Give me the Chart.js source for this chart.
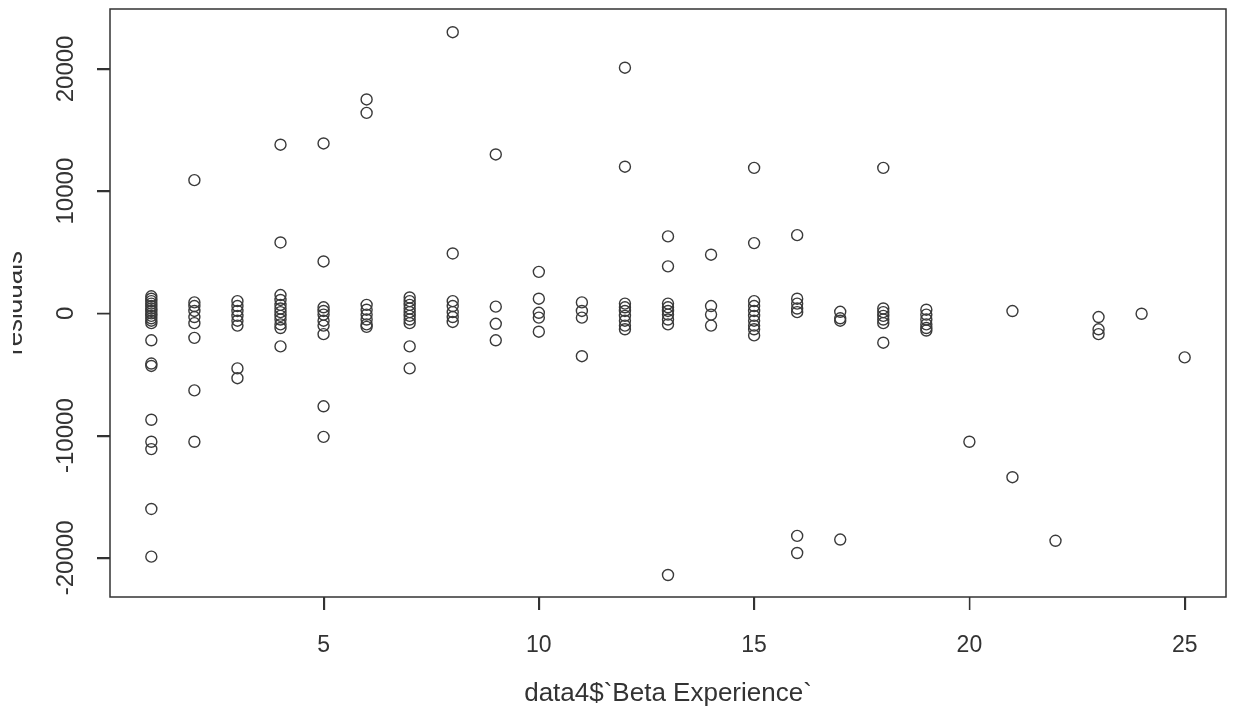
<!DOCTYPE html>
<html>
<head>
<meta charset="utf-8">
<script src="https://cdn.jsdelivr.net/npm/chart.js@4.4.1/dist/chart.umd.min.js"></script>
<style>
  html, body { margin: 0; padding: 0; background: #fff; overflow: hidden; }
  #plot { position: absolute; left: 13px; top: 0; }
</style>
</head>
<body>
<canvas id="plot" width="1220" height="717"></canvas>
<script>
// residuals vs experience
var experience = [
  1, 1, 1, 1, 1, 1, 1, 1, 1, 1, 1, 1, 1, 1, 1, 1, 1, 1, 1, 1,
  2, 2, 2, 2, 2, 2, 2, 2, 2,
  3, 3, 3, 3, 3, 3, 3, 3,
  4, 4, 4, 4, 4, 4, 4, 4, 4, 4, 4, 4,
  5, 5, 5, 5, 5, 5, 5, 5, 5, 5,
  6, 6, 6, 6, 6, 6, 6, 6,
  7, 7, 7, 7, 7, 7, 7, 7, 7, 7,
  8, 8, 8, 8, 8, 8, 8,
  9, 9, 9, 9,
  10, 10, 10, 10, 10,
  11, 11, 11, 11,
  12, 12, 12, 12, 12, 12, 12, 12, 12,
  13, 13, 13, 13, 13, 13, 13, 13, 13,
  14, 14, 14, 14,
  15, 15, 15, 15, 15, 15, 15, 15, 15, 15,
  16, 16, 16, 16, 16, 16, 16,
  17, 17, 17, 17,
  18, 18, 18, 18, 18, 18, 18,
  19, 19, 19, 19, 19, 19,
  20,
  21, 21,
  22,
  23, 23, 23,
  24,
  25
];
var residuals = [
  1400, 1200, 1000, 800, 600, 400, 200, 0, -200, -400, -600, -800, -2200, -4100, -4300, -8700, -10500, -11100, -16000, -19900,
  10900, 900, 600, 200, -300, -800, -2000, -6300, -10500,
  1000, 600, 200, -200, -600, -1000, -4500, -5300,
  13800, 5800, 1500, 1100, 700, 400, 100, -200, -500, -900, -1200, -2700,
  13900, 4250, 500, 200, -100, -600, -1000, -1700, -7600, -10100,
  17500, 16400, 700, 300, -100, -500, -900, -1100,
  1300, 1000, 700, 400, 100, -200, -500, -800, -2700, -4500,
  23000, 4900, 1000, 600, 100, -300, -700,
  13000, 550, -850, -2200,
  3400, 1200, 50, -350, -1500,
  900, 200, -350, -3500,
  20100, 12000, 800, 500, 200, -200, -600, -1000, -1300,
  6300, 3850, 800, 500, 200, -100, -500, -900, -21400,
  4800, 600, -100, -1000,
  11900, 5750, 1000, 600, 200, -200, -600, -1000, -1300, -1800,
  6400, 1200, 800, 400, 100, -18200, -19600,
  130, -400, -600, -18500,
  11900, 400, 100, -200, -500, -800, -2400,
  300, -100, -500, -900, -1200, -1400,
  -10500,
  190, -13400,
  -18600,
  -300, -1300, -1700,
  -30,
  -3600
];
var xTicks = [5, 10, 15, 20, 25];
var yTicks = [-20000, -10000, 0, 10000, 20000];

var ink = '#333';
var fam = '"Liberation Sans", Arial, sans-serif';
var tickLen = 13;

var points = experience.map(function (x, i) {
  return { x: x, y: residuals[i] };
});

// R style box + outward tick marks
var boxPlugin = {
  id: 'box',
  afterDraw: function (chart) {
    var a = chart.chartArea, c = chart.ctx;
    var sx = chart.scales.x, sy = chart.scales.y;
    c.save();
    c.strokeStyle = ink;
    c.lineWidth = 1.5;
    c.strokeRect(a.left, a.top, a.right - a.left, a.bottom - a.top);
    c.lineWidth = 1.3;
    c.beginPath();
    xTicks.forEach(function (v) {
      var px = Math.round(sx.getPixelForValue(v)) + 0.5;
      c.moveTo(px, a.bottom);
      c.lineTo(px, a.bottom + tickLen);
    });
    yTicks.forEach(function (v) {
      var py = Math.round(sy.getPixelForValue(v)) + 0.5;
      c.moveTo(a.left, py);
      c.lineTo(a.left - tickLen, py);
    });
    c.stroke();
    c.restore();
  }
};

new Chart(document.getElementById('plot').getContext('2d'), {
  type: 'scatter',
  data: {
    datasets: [{
      data: points,
      pointRadius: 5.5,
      pointHoverRadius: 5.5,
      pointBorderWidth: 1.4,
      borderColor: '#3a3a3a',
      backgroundColor: 'rgba(0,0,0,0)'
    }]
  },
  options: {
    responsive: false,
    animation: false,
    devicePixelRatio: 1,
    layout: { padding: { top: 9, right: 7, left: 0, bottom: 0 } },
    plugins: {
      legend: { display: false },
      tooltip: { enabled: false }
    },
    scales: {
      x: {
        type: 'linear',
        min: 0.04,
        max: 25.96,
        afterBuildTicks: function (s) { s.ticks = xTicks.map(function (v) { return { value: v }; }); },
        afterFit: function (s) { s.height = 120; },
        border: { display: false },
        grid: { drawOnChartArea: false, drawTicks: true, tickLength: tickLen, color: ink, lineWidth: 1.3 },
        ticks: {
          autoSkip: false,
          maxRotation: 0,
          padding: 22,
          color: ink,
          font: { family: fam, size: 23 },
          callback: function (v) { return String(v); }
        },
        title: {
          display: true,
          text: 'data4$`Beta Experience`',
          color: ink,
          font: { family: fam, size: 26 },
          padding: { top: 0, bottom: 8 }
        }
      },
      y: {
        type: 'linear',
        min: -23200,
        max: 24900,
        afterBuildTicks: function (s) { s.ticks = yTicks.map(function (v) { return { value: v }; }); },
        afterFit: function (s) { s.width = 97; },
        border: { display: false },
        grid: { drawOnChartArea: false, drawTicks: true, tickLength: tickLen, color: ink, lineWidth: 1.3 },
        ticks: {
          autoSkip: false,
          minRotation: 90,
          maxRotation: 90,
          crossAlign: 'center',
          padding: -7,
          color: ink,
          font: { family: fam, size: 24 },
          callback: function (v) { return String(v); }
        },
        title: {
          display: true,
          text: 'residuals',
          color: ink,
          font: { family: fam, size: 26 },
          padding: { top: -13.6, bottom: 0 }
        }
      }
    }
  },
  plugins: [boxPlugin]
});
</script>
</body>
</html>
